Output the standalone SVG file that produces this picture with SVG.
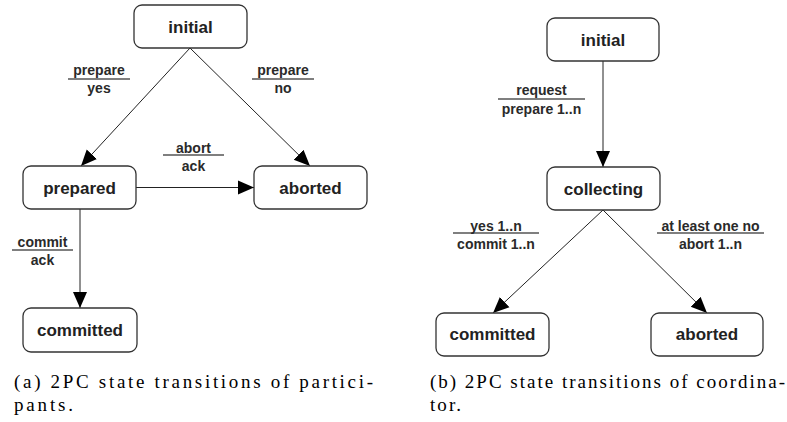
<svg xmlns="http://www.w3.org/2000/svg" width="787" height="422" viewBox="0 0 787 422">
<defs>
<marker id="ah" markerUnits="userSpaceOnUse" markerWidth="18" markerHeight="16" refX="16" refY="8" orient="auto">
<path d="M0,1 L16,8 L0,15 Z" fill="#000"/>
</marker>
<style>
.box{fill:#fff;stroke:#333;stroke-width:1.3}
.nt{font-family:"Liberation Sans",Arial,sans-serif;font-weight:bold;font-size:17px;fill:#222;text-anchor:middle}
.lt{font-family:"Liberation Sans",Arial,sans-serif;font-weight:bold;font-size:14px;fill:#2a2a2a;text-anchor:middle}
.edge{stroke:#222;stroke-width:1;fill:none;marker-end:url(#ah)}
.bar{stroke:#555;stroke-width:1.3}
.cap{font-family:"Liberation Serif","DejaVu Serif","Times New Roman",serif;font-size:19px;fill:#000}
</style>
</defs>
<g id="connectors">
<line class="edge" x1="190" y1="48" x2="81" y2="166"/>
<line class="edge" x1="190" y1="48" x2="310" y2="166"/>
<line class="edge" x1="136" y1="187.5" x2="254" y2="187.5"/>
<line class="edge" x1="80" y1="209" x2="80" y2="308"/>
<line class="edge" x1="603" y1="61" x2="603" y2="167"/>
<line class="edge" x1="603" y1="210" x2="493" y2="313"/>
<line class="edge" x1="603" y1="210" x2="707" y2="313"/>
</g>
<g id="labels">
<line class="bar" x1="68" y1="79" x2="130" y2="79"/>
<text class="lt" x="99" y="74.5">prepare</text>
<text class="lt" x="99" y="93">yes</text>
<line class="bar" x1="252" y1="79" x2="314" y2="79"/>
<text class="lt" x="283" y="74.5">prepare</text>
<text class="lt" x="283" y="93">no</text>
<line class="bar" x1="163" y1="155" x2="224" y2="155"/>
<text class="lt" x="193.5" y="152.5">abort</text>
<text class="lt" x="193.5" y="170.5">ack</text>
<line class="bar" x1="12" y1="250" x2="73" y2="250"/>
<text class="lt" x="42.5" y="246.5">commit</text>
<text class="lt" x="42.5" y="265">ack</text>
<line class="bar" x1="498" y1="99" x2="585" y2="99"/>
<text class="lt" x="541.5" y="94.5">request</text>
<text class="lt" x="541.5" y="114">prepare 1..n</text>
<line class="bar" x1="453" y1="233" x2="539" y2="233"/>
<text class="lt" x="496" y="230.5">yes 1..n</text>
<text class="lt" x="496" y="249">commit 1..n</text>
<line class="bar" x1="657" y1="233" x2="764" y2="233"/>
<text class="lt" x="710.5" y="230.5">at least one no</text>
<text class="lt" x="710.5" y="249">abort 1..n</text>
</g>
<g id="a-initial"><rect class="box" x="134" y="5" width="113" height="43" rx="8"/><text class="nt" x="190.5" y="33">initial</text></g>
<g id="a-prepared"><rect class="box" x="23" y="166" width="113" height="43" rx="8"/><text class="nt" x="79.5" y="194">prepared</text></g>
<g id="a-aborted"><rect class="box" x="254" y="166" width="113" height="43" rx="8"/><text class="nt" x="310.5" y="194">aborted</text></g>
<g id="a-committed"><rect class="box" x="23" y="308" width="114" height="44" rx="8"/><text class="nt" x="80" y="336">committed</text></g>
<g id="b-initial"><rect class="box" x="547" y="18" width="112" height="43" rx="8"/><text class="nt" x="603" y="46">initial</text></g>
<g id="b-collecting"><rect class="box" x="547" y="167" width="113" height="43" rx="8"/><text class="nt" x="603.5" y="195">collecting</text></g>
<g id="b-committed"><rect class="box" x="436" y="313" width="113" height="43" rx="8"/><text class="nt" x="492.5" y="340">committed</text></g>
<g id="b-aborted"><rect class="box" x="651" y="313" width="112" height="43" rx="8"/><text class="nt" x="707" y="340">aborted</text></g>
<g id="captions">
<text class="cap" x="14" y="388" textLength="359" lengthAdjust="spacing">(a) 2PC state transitions of partici-</text>
<text class="cap" x="14" y="411" textLength="59" lengthAdjust="spacing">pants.</text>
<text class="cap" x="430" y="388" textLength="355" lengthAdjust="spacing">(b) 2PC state transitions of coordina-</text>
<text class="cap" x="430" y="411" textLength="31" lengthAdjust="spacing">tor.</text>
</g>
</svg>
